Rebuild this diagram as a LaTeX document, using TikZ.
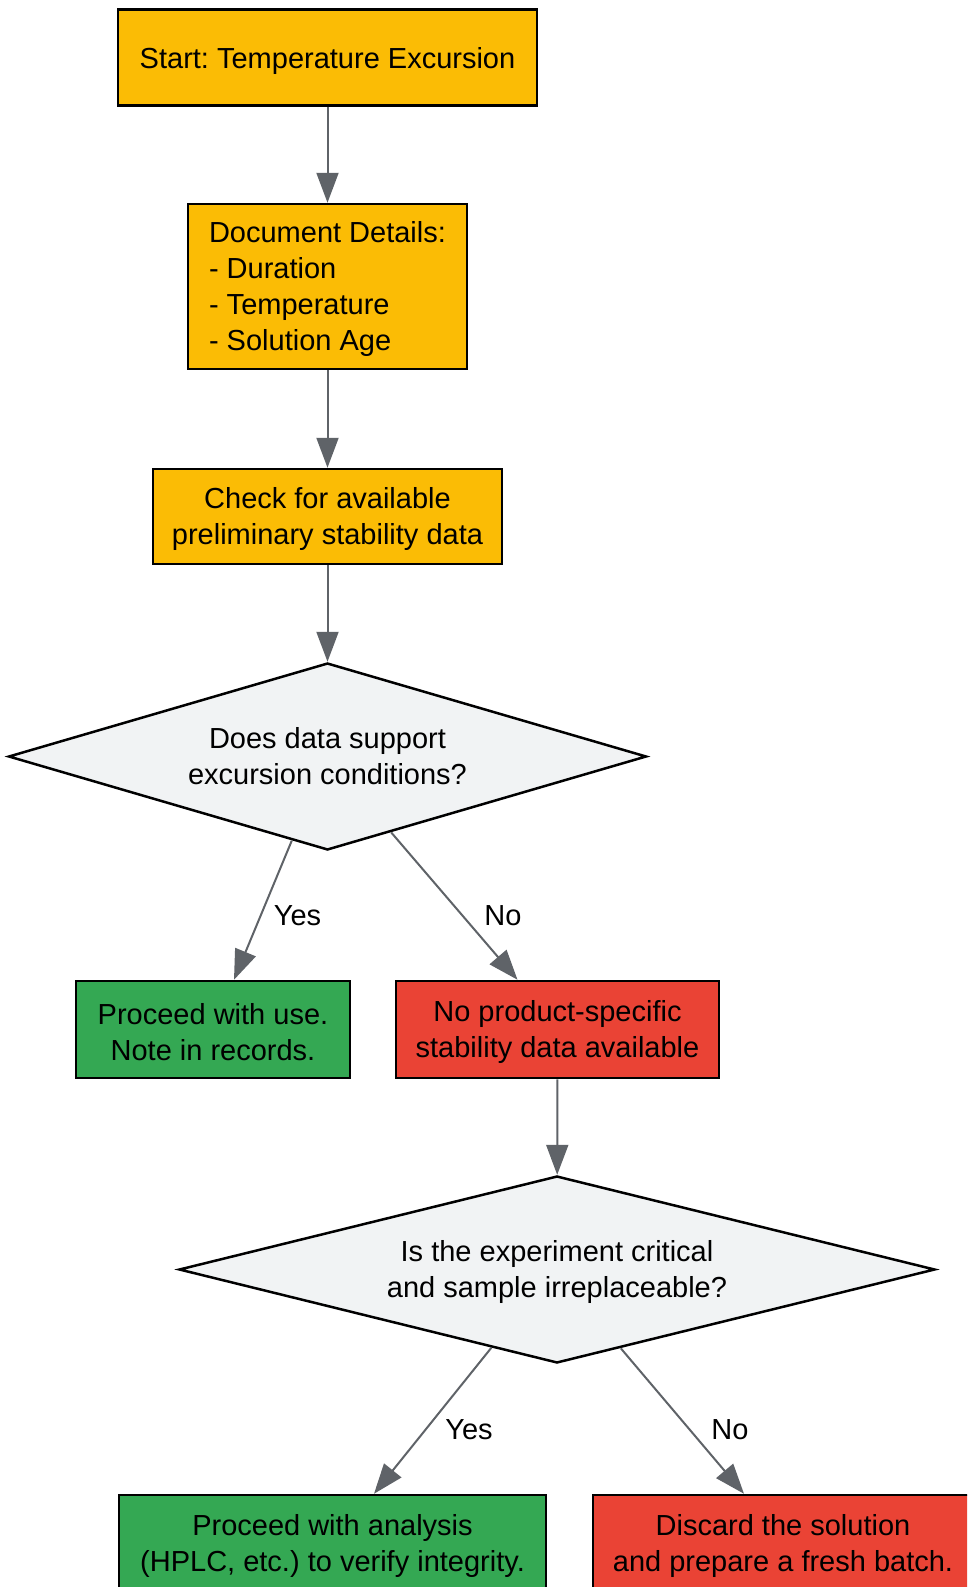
\documentclass[tikz,border=0pt]{standalone}
\usepackage{fontspec}
\setmainfont{Liberation Sans}
\usetikzlibrary{shapes.geometric,arrows.meta}
\definecolor{amber}{HTML}{FBBC05}
\definecolor{okgreen}{HTML}{34A853}
\definecolor{badred}{HTML}{EA4335}
\definecolor{dfill}{HTML}{F1F3F4}
\definecolor{edgegray}{HTML}{5F6368}
\newcommand\mylift{\rule{0pt}{26pt}}
\tikzset{
 base/.style={draw=black, line width=2.5pt, font=\fontsize{29}{36}\selectfont\frenchspacing, inner sep=0pt, align=center, text=black},
 procbox/.style={base, rectangle},
 decbox/.style={base, diamond, fill=dfill, aspect=3.4},
 flow/.style={draw=edgegray, line width=2pt, -{Triangle[length=30pt,width=22pt]}},
 lbl/.style={font=\fontsize{29}{36}\selectfont, inner sep=0pt, text=black}
}
\begin{document}
\begin{tikzpicture}[x=1pt,y=-1pt]
\useasboundingbox (0,0) rectangle (967,1587);
\clip (0,0) rectangle (967,1587);
\node[procbox, fill=amber, minimum width=419pt, minimum height=96pt, execute at begin node={\rule{0pt}{29pt}}] (start) at (327.5,57.5) {Start: Temperature Excursion};
\node[procbox, fill=amber, minimum width=279pt, minimum height=165pt, align=left] (doc) at (327.5,286.5) {\mylift Document Details:\\- Duration\\- Temperature\\- Solution Age};
\node[procbox, fill=amber, minimum width=349pt, minimum height=95pt] (check) at (327.5,516.5) {\mylift Check for available\\preliminary stability data};
\node[decbox, minimum width=638pt, minimum height=187pt] (d1) at (327.5,756.5) {Does data support\\excursion conditions?};
\node[procbox, fill=okgreen, minimum width=274pt, minimum height=97pt] (g1) at (213,1029.5) {\mylift Proceed with use.\\Note in records.};
\node[procbox, fill=badred, minimum width=323pt, minimum height=97pt] (r1) at (557.5,1029.5) {\mylift No product-specific\\stability data available};
\node[decbox, aspect=4.04, minimum width=756pt, minimum height=187pt] (d2) at (557,1269.5) {\mylift Is the experiment critical\\and sample irreplaceable?};
\node[procbox, fill=okgreen, minimum width=427pt, minimum height=97pt] (g2) at (332.5,1543.5) {\mylift Proceed with analysis\\(HPLC, etc.) to verify integrity.};
\node[procbox, fill=badred, minimum width=380pt, minimum height=97pt] (r2) at (783,1543.5) {\mylift Discard the solution\\and prepare a fresh batch.};

\draw[flow] (start) -- (doc);
\draw[flow] (doc) -- (check);
\draw[flow] (check) -- (d1);
\draw[flow] (d1.247) -- ([xshift=21pt]g1.north);
\draw[flow] (d1.310) -- ([xshift=-40pt]r1.north);
\draw[flow] (r1) -- (d2);
\draw[flow] (d2.230) -- ([xshift=41.5pt]g2.north);
\draw[flow] (d2.309) -- ([xshift=-39pt]r2.north);

\node[lbl] (lyes1) at (297.5,916) {Yes};
\node[lbl] (lno1) at (503,916) {No};
\node[lbl] (lyes2) at (469,1430) {Yes};
\node[lbl] (lno2) at (730,1430) {No};
\end{tikzpicture}
\end{document}
